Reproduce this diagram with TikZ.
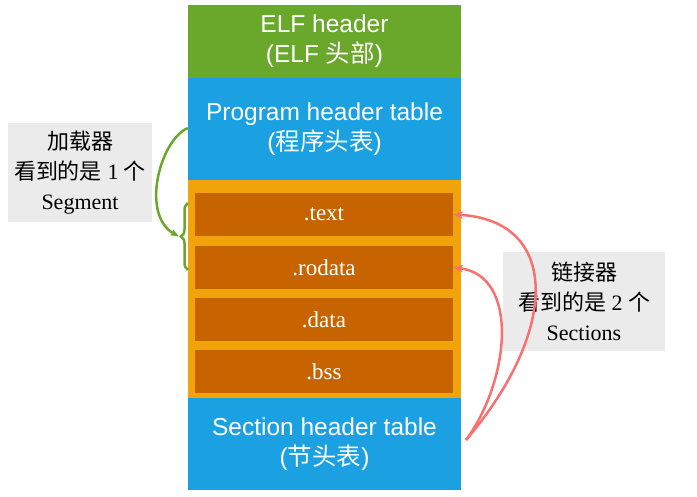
\documentclass[tikz,border=0pt]{standalone}
\usepackage{fontspec}
\setmainfont{Liberation Serif}
\newfontfamily\hsans{Liberation Sans}
\newfontfamily\cjk{Noto Sans CJK SC}
\usetikzlibrary{decorations.pathreplacing,arrows.meta}
\definecolor{gr}{HTML}{6AA82C}
\definecolor{bl}{HTML}{1BA1E2}
\definecolor{og}{HTML}{F0A30A}
\definecolor{dk}{HTML}{C86400}
\definecolor{rd}{HTML}{F87171}
\definecolor{gy}{HTML}{EBEBEB}
\begin{document}
\begin{tikzpicture}[x=1pt,y=-1pt,
 hdr/.style={draw=none,minimum width=273pt,inner sep=0pt,text=white,align=center,font=\hsans\fontsize{24.5}{30}\selectfont},
 sec/.style={fill=dk,draw=none,minimum width=258pt,minimum height=43pt,inner sep=0pt,text=white,font=\fontsize{23}{26}\selectfont},
 lab/.style={fill=gy,inner sep=0pt,align=center,font=\fontsize{22}{30}\selectfont}]
\useasboundingbox (0,0) rectangle (697,497);
\node[hdr,fill=gr,minimum height=73pt] (elf) at (324.5,41.5) {ELF header\\(ELF {\cjk 头部})};
\node[hdr,fill=bl,minimum height=102pt] (pht) at (324.5,129) {Program header table\\({\cjk 程序头表})};
\node[fill=og,minimum width=273pt,minimum height=218pt,inner sep=0pt] (seg) at (324.5,289) {};
\node[hdr,fill=bl,minimum height=92pt] (sht) at (324.5,444) {Section header table\\({\cjk 节头表})};
\node[sec] (text) at (324,214.5) {.text};
\node[sec] (ro) at (324,267.5) {.rodata};
\node[sec] (data) at (324,319.5) {.data};
\node[sec] (bss) at (324,371.5) {.bss};
\node[lab,minimum width=144pt,minimum height=99pt] (ld) at (80,172.5) {{\cjk 加载器}\\{\cjk 看到的是} 1 {\cjk 个}\\Segment};
\node[lab,minimum width=162pt,minimum height=99pt] (lk) at (584,301.5) {{\cjk 链接器}\\{\cjk 看到的是} 2 {\cjk 个}\\Sections};
\coordinate (bt) at (188,203);
\coordinate (bb) at (188,270);
\draw[gr,line width=2.5pt,decorate,decoration={brace,amplitude=7pt}] (bb) -- (bt) coordinate[midway,xshift=-9pt] (bm);
\draw[gr,line width=2.5pt,-{Stealth[length=9pt]}] (pht.west|-0,128) .. controls (160,140) and (140,215) .. (bm);
\coordinate (s) at (466,440);
\draw[rd,line width=2.5pt,-{Stealth[length=10pt]}] (s) .. controls (560,330) and (560,220) .. (text.east);
\draw[rd,line width=2.5pt,-{Stealth[length=10pt]}] (s) .. controls (510,380) and (520,275) .. (ro.east);
\end{tikzpicture}
\end{document}
